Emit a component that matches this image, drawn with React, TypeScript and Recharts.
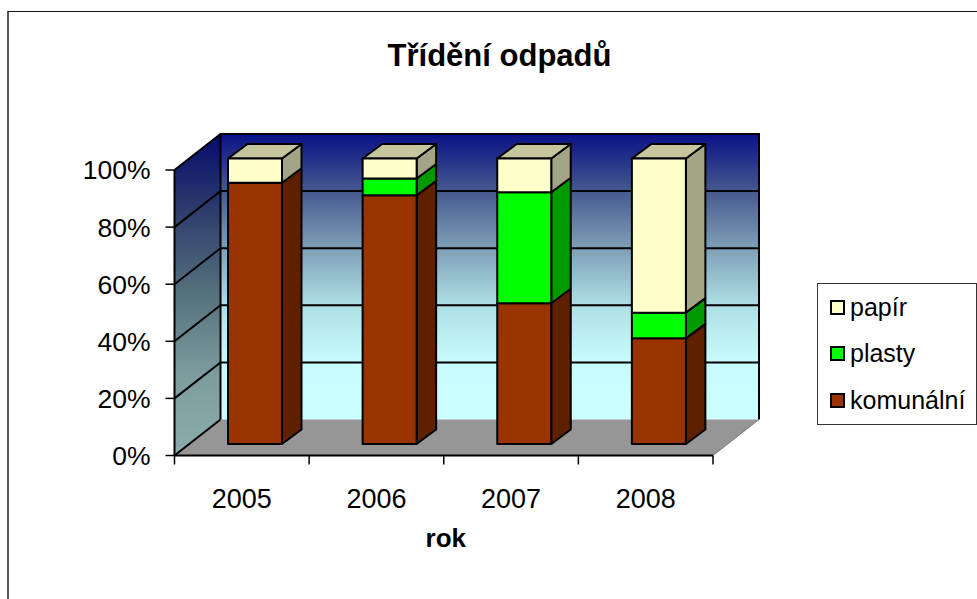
import React from "react";
import { BarChart, Bar, XAxis, YAxis, Legend, ReferenceArea, Label } from "recharts";

const years = ["2005", "2006", "2007", "2008"];
const komunalni = [91.5, 87.1, 49.3, 37];
const plasty = [0, 5.9, 38.9, 9];
const papir = [8.5, 7, 11.8, 54];
const yTicks = [0, 20, 40, 60, 80, 100];

const rows = years.map((year, i) => ({
  year,
  komunalni: komunalni[i],
  plasty: plasty[i],
  papir: papir[i],
}));

const FONT = "'Liberation Sans', Arial, sans-serif";
const WALL_DX = 46;
const WALL_DY = -36;
const BAR_DX = 13.5;
const BAR_DY = -11.5;
const DEPTH_X = 19.5;
const DEPTH_Y = -14.5;

function Walls(props: any) {
  const { x, y, width, height } = props;
  const bottom = y + height;
  const right = x + width;
  const bx = x + WALL_DX;
  const lines = yTicks.map((t) => bottom - (t / 100) * height);
  return (
    <g>
      <defs>
        <linearGradient id="backWall" gradientUnits="userSpaceOnUse" x1="0" x2="0" y1={y + WALL_DY} y2={bottom + WALL_DY}>
          <stop offset="0" stopColor="#0a1286" />
          <stop offset="0.2" stopColor="#46598f" />
          <stop offset="0.4" stopColor="#7f9fb6" />
          <stop offset="0.6" stopColor="#aedfe6" />
          <stop offset="0.8" stopColor="#c8fcfc" />
          <stop offset="1" stopColor="#ccffff" />
        </linearGradient>
        <linearGradient id="sideWall" gradientUnits="userSpaceOnUse" x1="0" x2="0" y1={y + WALL_DY} y2={bottom}>
          <stop offset="0" stopColor="#060a6c" />
          <stop offset="0.25" stopColor="#2f3f6c" />
          <stop offset="0.5" stopColor="#56727e" />
          <stop offset="0.75" stopColor="#7c9c9e" />
          <stop offset="1" stopColor="#8cadad" />
        </linearGradient>
      </defs>
      <rect x={bx} y={y + WALL_DY} width={width} height={height} fill="url(#backWall)" />
      <path
        d={`M${x},${y}L${bx},${y + WALL_DY}L${bx},${bottom + WALL_DY}L${x},${bottom}Z`}
        fill="url(#sideWall)"
      />
      <path
        d={`M${x},${bottom}L${bx},${bottom + WALL_DY}L${right + WALL_DX},${bottom + WALL_DY}L${right},${bottom}Z`}
        fill="#969696"
      />
      {lines.map((ly, i) => (
        <path
          key={i}
          d={
            i === 0
              ? `M${x},${ly}L${bx},${ly + WALL_DY}`
              : `M${x},${ly}L${bx},${ly + WALL_DY}L${right + WALL_DX},${ly + WALL_DY}`
          }
          fill="none"
          stroke="#000"
          strokeWidth={2}
        />
      ))}
      <path
        d={`M${bx},${bottom + WALL_DY}L${bx},${y + WALL_DY}L${right + WALL_DX},${y + WALL_DY}L${right + WALL_DX},${bottom + WALL_DY}`}
        fill="none"
        stroke="#000"
        strokeWidth={2}
      />
      <path
        d={`M${right},${bottom}L${right + WALL_DX},${bottom + WALL_DY}`}
        fill="none"
        stroke="#777"
        strokeWidth={1}
      />
      {[...years, ""].map((_, i) => {
        const tx = x + (i * width) / years.length;
        return <path key={i} d={`M${tx},${bottom}V${bottom + 9}`} stroke="#000" strokeWidth={1.5} />;
      })}
    </g>
  );
}

function makeBox(front: string, side: string, top?: string) {
  return function Box(props: any) {
    const { x, y, width, height } = props;
    if (!height || height <= 0) return null;
    const fx = x + BAR_DX;
    const fy = y + BAR_DY;
    const r = fx + width;
    const b = fy + height;
    return (
      <g stroke="#000" strokeWidth={2} strokeLinejoin="round">
        <path d={`M${r},${fy}L${r + DEPTH_X},${fy + DEPTH_Y}L${r + DEPTH_X},${b + DEPTH_Y}L${r},${b}Z`} fill={side} />
        {top ? (
          <path d={`M${fx},${fy}L${fx + DEPTH_X},${fy + DEPTH_Y}L${r + DEPTH_X},${fy + DEPTH_Y}L${r},${fy}Z`} fill={top} />
        ) : null}
        <rect x={fx} y={fy} width={width} height={height} fill={front} />
      </g>
    );
  };
}

function LegendBox(props: any) {
  const items = [...(props.payload || [])].reverse();
  return (
    <div
      style={{
        width: 160,
        height: 142,
        boxSizing: "border-box",
        border: "1.5px solid #333",
        background: "#fff",
        position: "relative",
        fontFamily: FONT,
        fontSize: 25,
        color: "#000",
      }}
    >
      {items.map((it: any, i: number) => (
        <div key={it.value} style={{ position: "absolute", left: 12, top: 8 + i * 46.5, height: 30, display: "flex", alignItems: "center" }}>
          <span style={{ width: 11, height: 11, border: "2px solid #000", background: it.color, display: "inline-block", marginRight: 5 }} />
          <span>{it.value}</span>
        </div>
      ))}
    </div>
  );
}

export default function App() {
  return (
    <div style={{ position: "absolute", left: 0, top: 0, width: 977, height: 599, background: "#fff", overflow: "hidden" }}>
      <div style={{ position: "absolute", left: 7, top: 11, width: 970, height: 588, borderLeft: "2px solid #555", borderTop: "1.5px solid #111", boxSizing: "border-box" }} />
      <BarChart
        width={977}
        height={599}
        data={rows}
        barSize={54}
        margin={{ left: 173.5, right: 104, top: 170, bottom: 83.5 }}
        style={{ position: "absolute", left: 0, top: 0 }}
      >
        <text x={499.5} y={66} textAnchor="middle" fontFamily={FONT} fontWeight="bold" fontSize={31} fill="#000">
          Třídění odpadů
        </text>
        <ReferenceArea y1={0} y2={100} shape={Walls} ifOverflow="visible" />
        <XAxis
          dataKey="year"
          height={60}
          tickLine={false}
          axisLine={{ stroke: "#000", strokeWidth: 2 }}
          tickMargin={27}
          tick={{ fontFamily: FONT, fontSize: 27, fill: "#000" }}
          interval={0}
        >
          <Label value="rok" position="insideBottom" offset={-31} dx={2} fontFamily={FONT} fontWeight="bold" fontSize={26} fill="#000" />
        </XAxis>
        <YAxis
          width={1}
          domain={[0, 100]}
          ticks={yTicks}
          tickSize={9}
          tickMargin={15}
          interval={0}
          tickFormatter={(v: number) => `${v}%`}
          axisLine={{ stroke: "#000", strokeWidth: 2 }}
          tickLine={{ stroke: "#000", strokeWidth: 1.5 }}
          tick={{ fontFamily: FONT, fontSize: 26.5, fill: "#000" }}
        />
        <Legend
          layout="vertical"
          align="right"
          verticalAlign="top"
          itemSorter={null}
          content={LegendBox}
          wrapperStyle={{ position: "absolute", left: 817, top: 283, right: "auto", width: 160, height: 142 }}
        />
        <Bar dataKey="komunalni" name="komunální" stackId="a" fill="#993300" isAnimationActive={false} shape={makeBox("#993300", "#5f2000")} />
        <Bar dataKey="plasty" name="plasty" stackId="a" fill="#00ff00" isAnimationActive={false} shape={makeBox("#00ff00", "#009900")} />
        <Bar dataKey="papir" name="papír" stackId="a" fill="#ffffcc" isAnimationActive={false} shape={makeBox("#ffffcc", "#a3a385", "#c6c69e")} />
      </BarChart>
    </div>
  );
}
